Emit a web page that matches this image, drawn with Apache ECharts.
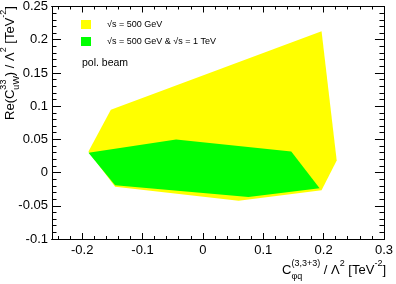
<!DOCTYPE html>
<html>
<head>
<meta charset="utf-8">
<script src="https://cdn.jsdelivr.net/npm/echarts@6/dist/echarts.min.js"></script>
<style>html,body{margin:0;padding:0;background:#fff}#c{width:396px;height:284px}</style>
</head>
<body>
<div id="c"></div>
<script>
// Region boundaries (polygon vertices)
var yellowName = '√s = 500 GeV';
var yellowX = [-0.1525, 0.1966, 0.2217, 0.1966, 0.0592, -0.1454, -0.1896];
var yellowY = [0.0946, 0.2129, 0.0183, -0.0266, -0.0424, -0.0214, 0.0317];
var greenName = '√s = 500 GeV & √s = 1 TeV';
var greenX = [-0.1896, -0.0444, 0.1464, 0.1934, 0.0755, -0.1454];
var greenY = [0.0298, 0.0497, 0.0317, -0.0237, -0.0367, -0.0192];
// Tick labels
var xTickLabels = ['-0.2', '-0.1', '0', '0.1', '0.2', '0.3'];
var yTickLabels = ['-0.1', '-0.05', '0', '0.05', '0.1', '0.15', '0.2', '0.25'];
var xMin = -0.25, xMax = 0.3, yMin = -0.1, yMax = 0.25;

// Fine grid of axis positions (hundredths) used only for tick placement
var xCats = [], yCats = [];
for (var i = -25; i <= 30; i++) xCats.push(String(i / 100));
for (var j = -10; j <= 25; j++) yCats.push(String(j / 100));
function hund(v) { return Math.round(parseFloat(v) * 100); }
function isXMajor(idx, v) { return xTickLabels.indexOf(v) >= 0; }
function isXMinor(idx, v) { var h = hund(v); return h % 2 === 0 && h % 10 !== 0; }
function isYMajor(idx, v) { return yTickLabels.indexOf(v) >= 0; }
function isYMinor(idx, v) { return hund(v) % 5 !== 0; }

var FONT = 'Liberation Sans';
var BLACK = { color: '#000', width: 1 };
function poly(name, xs, ys, color) {
  return {
    type: 'custom', name: name, xAxisIndex: 0, yAxisIndex: 0,
    itemStyle: { color: color },
    data: [[xs[0], ys[0]]],
    renderItem: function (params, api) {
      var pts = xs.map(function (x, k) { return api.coord([x, ys[k]]); });
      return { type: 'polygon', shape: { points: pts }, style: { fill: color, stroke: null } };
    },
    silent: true
  };
}
function valAx(pos, mn, mx) {
  return {
    type: 'value', position: pos, min: mn, max: mx,
    axisLine: { show: true, onZero: false, lineStyle: BLACK },
    axisTick: { show: false }, axisLabel: { show: false }, splitLine: { show: false }
  };
}
// tick-only axis
function tickAx(pos, cats, fn, len) {
  return {
    type: 'category', position: pos, data: cats, boundaryGap: false,
    axisLine: { show: true, onZero: false, lineStyle: BLACK },
    axisTick: { show: true, inside: true, length: len, interval: fn, lineStyle: BLACK },
    axisLabel: { show: false }, splitLine: { show: false }
  };
}
// label-only axis
function labelAx(pos, cats, fn, margin) {
  return {
    type: 'category', position: pos, data: cats, boundaryGap: false,
    axisLine: { show: false, onZero: false }, axisTick: { show: false },
    axisLabel: { show: true, interval: fn, color: '#000', fontFamily: FONT, fontSize: 13, margin: margin },
    splitLine: { show: false }
  };
}
var supS = { fontFamily: FONT, fontSize: 9, lineHeight: 9, verticalAlign: 'top', align: 'left', color: '#000' };
var sup0 = Object.assign({}, supS, { width: 0 });
var subS = { fontFamily: FONT, fontSize: 9, lineHeight: 9, verticalAlign: 'bottom', align: 'left', color: '#000' };
var sub0 = Object.assign({}, subS, { width: 0 });
var mainS = { fontFamily: FONT, fontSize: 13, lineHeight: 22, verticalAlign: 'middle', align: 'left', color: '#000' };

var chart = echarts.init(document.getElementById('c'), null, { renderer: 'canvas' });
chart.setOption({
  animation: false,
  backgroundColor: '#fff',
  grid: { left: 52, right: 9, top: 5, bottom: 45 },
  xAxis: [
    valAx('bottom', xMin, xMax),
    valAx('top', xMin, xMax),
    labelAx('bottom', xCats, isXMajor, 5),
    tickAx('bottom', xCats, isXMajor, 6),
    tickAx('bottom', xCats, isXMinor, 3),
    tickAx('top', xCats, isXMajor, 6),
    tickAx('top', xCats, isXMinor, 3)
  ],
  yAxis: [
    valAx('left', yMin, yMax),
    valAx('right', yMin, yMax),
    labelAx('left', yCats, isYMajor, 4),
    tickAx('left', yCats, isYMajor, 9),
    tickAx('left', yCats, isYMinor, 4.5),
    tickAx('right', yCats, isYMajor, 9),
    tickAx('right', yCats, isYMinor, 4.5)
  ],
  legend: {
    orient: 'vertical', left: 81, top: 19, padding: 0,
    itemWidth: 10, itemHeight: 9, itemGap: 6, icon: 'rect',
    formatter: function (n) { return '{sp|}{t|' + n + '}'; },
    textStyle: { fontFamily: FONT, fontSize: 9, color: '#000', lineHeight: 11,
      rich: { sp: { width: 11 }, t: { fontFamily: FONT, fontSize: 9, color: '#000', lineHeight: 11 } } },
    data: [yellowName, greenName], selectedMode: false
  },
  series: [
    poly(yellowName, yellowX, yellowY, '#ffff00'),
    poly(greenName, greenX, greenY, '#00ff00')
  ],
  graphic: [
    { type: 'text', left: 82, top: 58, style: { text: 'pol. beam', fontFamily: FONT, fontSize: 10.5, fill: '#000' } },
    { type: 'text', x: 10, y: 63, rotation: Math.PI / 2,
      style: { text: '{m|Re(C}{a|33}{b|uW}{m|) / Λ}{s|2}{m| [TeV}{s|-2}{m|]}',
        align: 'center', verticalAlign: 'middle',
        rich: { m: mainS, a: sup0, b: subS, s: supS } } },
    { type: 'text', x: 386, y: 270,
      style: { text: '{m|C}{b|φq}{s|(3,3+3)}{m| / Λ}{s|2}{m| [TeV}{s|-2}{m|]}',
        align: 'right', verticalAlign: 'middle',
        rich: { m: mainS, b: sub0, s: supS } } }
  ]
});
</script>
</body>
</html>
